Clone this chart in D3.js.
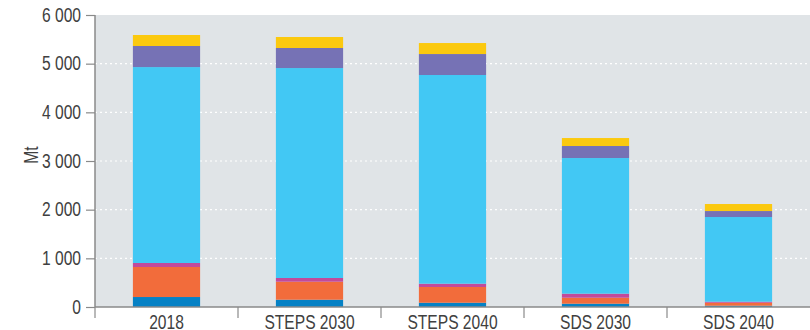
<!DOCTYPE html>
<html>
<head>
<meta charset="utf-8">
<script src="https://cdn.jsdelivr.net/npm/d3@7"></script>
<style>
  body { margin: 0; background: #fff; }
  text { font-family: "Liberation Sans", Arial, sans-serif; fill: #404040; }
</style>
</head>
<body>
<svg id="chart" width="810" height="330"></svg>
<script>
// DATA
var categories = ["2018", "STEPS 2030", "STEPS 2040", "SDS 2030", "SDS 2040"];
var seriesNames = ["s1", "s2", "s3", "s4", "s5", "s6"];
var s1 = [205, 150, 88, 68, 27];
var s2 = [617, 370, 323, 123, 61];
var s3 = [82, 76, 68, 83, 21];
var s4 = [4026, 4314, 4288, 2787, 1740];
var s5 = [433, 412, 431, 247, 123];
var s6 = [226, 226, 226, 164, 144];
var yTicks = [0, 1000, 2000, 3000, 4000, 5000, 6000];

var colors = ["#0581c5", "#f26c3b", "#c24a9b", "#42c8f4", "#7672b5", "#fbc90f"];
var squeeze = 0.8; // condensed look for labels
var fs = "19.5px";

var svg = d3.select("#chart");
var margin = { top: 15, right: 0, bottom: 23, left: 95 };
var width = 810 - margin.left - margin.right;
var height = 330 - margin.top - margin.bottom;

var rows = categories.map(function (c, i) {
    return { cat: c, s1: s1[i], s2: s2[i], s3: s3[i], s4: s4[i], s5: s5[i], s6: s6[i] };
});
var stack = d3.stack().keys(seriesNames)(rows);

var x = d3.scaleBand().domain(categories).range([0, width]).paddingInner(0.53).paddingOuter(0.265);
var xb = d3.scaleBand().domain(categories).range([0, width]);
var y = d3.scaleLinear().domain([0, 6000]).range([height, 0]);

var fmt = d3.formatLocale({ decimal: ".", thousands: "\u00a0", grouping: [3], currency: ["", ""] }).format(",d");

var g = svg.append("g").attr("transform", "translate(" + margin.left + "," + margin.top + ")");

// background
g.append("rect").attr("width", width).attr("height", height).attr("fill", "#e0e4e7");

// grid
g.selectAll(".grid").data(yTicks.filter(function (d) { return d > 0 && d < 6000; }))
    .enter().append("line")
    .attr("x1", 0).attr("x2", width)
    .attr("y1", function (d) { return y(d); }).attr("y2", function (d) { return y(d); })
    .attr("stroke", "#fff").attr("stroke-width", 1.2).attr("stroke-dasharray", "2,3");

// bars
g.selectAll(".layer").data(stack).enter().append("g")
    .attr("fill", function (d, i) { return colors[i]; })
    .selectAll("rect").data(function (d) { return d; })
    .enter().append("rect")
    .attr("x", function (d) { return x(d.data.cat); })
    .attr("width", x.bandwidth())
    .attr("y", function (d) { return y(d[1]); })
    .attr("height", function (d) { return y(d[0]) - y(d[1]); });

// y axis
var yAxis = g.append("g").call(d3.axisLeft(y).tickValues(yTicks).tickFormat(fmt).tickSize(9));
yAxis.select(".domain").attr("stroke", "#8a8a8a").attr("stroke-width", 1.5).attr("d", "M0,0V" + height);
yAxis.selectAll(".tick line").attr("stroke", "#8a8a8a").attr("stroke-width", 1.2);
yAxis.selectAll("text")
    .attr("x", -14 / squeeze)
    .attr("transform", "scale(" + squeeze + ",1)")
    .style("font-size", fs).style("font-family", null).attr("fill", "#404040");

// x axis
var xAxisG = g.append("g").attr("transform", "translate(0," + height + ")");
xAxisG.append("line").attr("x1", 0).attr("x2", width).attr("stroke", "#8a8a8a").attr("stroke-width", 1.5);
xAxisG.selectAll(".bt").data(categories)
    .enter().append("line")
    .attr("x1", function (d) { return xb(d); }).attr("x2", function (d) { return xb(d); })
    .attr("y1", 0).attr("y2", 11)
    .attr("stroke", "#8a8a8a").attr("stroke-width", 1.2);
xAxisG.selectAll(".xl").data(categories).enter().append("g")
    .attr("transform", function (d) { return "translate(" + (xb(d) + xb.bandwidth() / 2) + ",22) scale(" + squeeze + ",1)"; })
    .append("text")
    .attr("text-anchor", "middle")
    .style("font-size", fs)
    .text(function (d) { return d; });

// y label
svg.append("text")
    .attr("transform", "translate(38,155) rotate(-90) scale(" + squeeze + ",1)")
    .attr("text-anchor", "middle")
    .style("font-size", fs)
    .text("Mt");
</script>
</body>
</html>
